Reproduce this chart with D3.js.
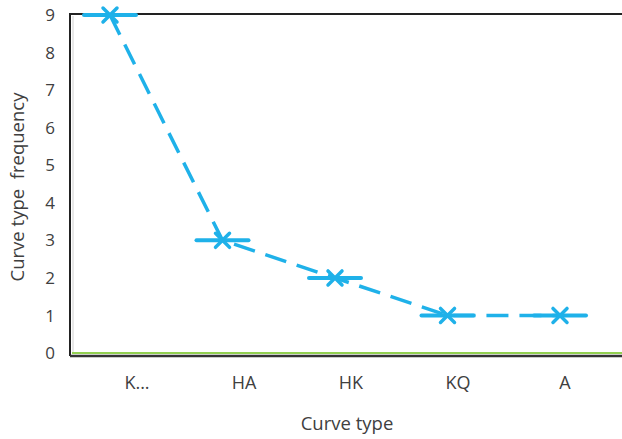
<!DOCTYPE html>
<html>
<head>
<meta charset="utf-8">
<script src="https://cdn.jsdelivr.net/npm/d3@7"></script>
<style>
  body { margin: 0; background: #fff; }
  text { font-family: "Open Sans", "Noto Sans", sans-serif; fill: #404040; }
</style>
</head>
<body>
<svg id="chart" width="622" height="439"></svg>
<script>
const categories = ["K...", "HA", "HK", "KQ", "A"];
const frequency = [9, 3, 2, 1, 1];
const yTicks = [0, 1, 2, 3, 4, 5, 6, 7, 8, 9];

const svg = d3.select("#chart");
const plotLeft = 70, plotTop = 14, plotBottom = 355, plotRight = 640;

const y = d3.scaleLinear().domain([0, 9]).range([353, 15]);
// markers and labels don't sit on exactly the same x in the original
const x = d3.scalePoint().domain(categories).range([110, 560]);
const xLabel = d3.scalePoint().domain(categories).range([137, 565]);

// frame
svg.append("line").attr("x1", plotLeft).attr("x2", plotRight).attr("y1", plotTop).attr("y2", plotTop)
  .attr("stroke", "#222").attr("stroke-width", 2);
svg.append("line").attr("x1", plotLeft).attr("x2", plotLeft).attr("y1", plotTop - 1).attr("y2", plotBottom + 1)
  .attr("stroke", "#222").attr("stroke-width", 2);
svg.append("line").attr("x1", plotLeft + 3).attr("x2", plotLeft + 3).attr("y1", plotTop + 2).attr("y2", plotBottom - 3)
  .attr("stroke", "#d0d0d0").attr("stroke-width", 1);
svg.append("line").attr("x1", plotLeft).attr("x2", plotRight).attr("y1", plotBottom + 1).attr("y2", plotBottom + 1)
  .attr("stroke", "#333").attr("stroke-width", 2.5);
svg.append("line").attr("x1", plotLeft + 2).attr("x2", plotRight).attr("y1", y(0)).attr("y2", y(0))
  .attr("stroke", "#92d050").attr("stroke-width", 2);

// y tick labels
svg.append("g").selectAll("text").data(yTicks).join("text")
  .attr("x", 50).attr("y", d => y(d)).attr("dy", "0.36em")
  .attr("text-anchor", "middle").style("font-size", "17px")
  .text(d => d);

// x tick labels
svg.append("g").selectAll("text").data(categories).join("text")
  .attr("x", d => xLabel(d)).attr("y", 389)
  .attr("text-anchor", "middle").style("font-size", "18px")
  .text(d => d);

// titles
svg.append("text").attr("x", 347).attr("y", 430).attr("text-anchor", "middle")
  .style("font-size", "18.5px").text("Curve type");
svg.append("text").attr("transform", "translate(24,187) rotate(-90)")
  .attr("text-anchor", "middle").style("font-size", "18.5px")
  .attr("xml:space", "preserve").text("Curve type  frequency");

const blue = "#1fb1e9";
const pts = categories.map((c, i) => ({ c, v: frequency[i] }));

// dashed series line
svg.append("path").datum(pts)
  .attr("fill", "none").attr("stroke", blue).attr("stroke-width", 3.5)
  .attr("stroke-dasharray", "22,11")
  .attr("d", d3.line().x(d => x(d.c)).y(d => y(d.v)));

// markers: horizontal bar plus x
const mk = svg.append("g").selectAll("g").data(pts).join("g")
  .attr("transform", d => `translate(${x(d.c)},${y(d.v)})`);
mk.append("line").attr("x1", -26).attr("x2", 26)
  .attr("stroke", blue).attr("stroke-width", 4).attr("stroke-linecap", "round");
mk.append("path").attr("d", "M-7,-7L7,7M-7,7L7,-7")
  .attr("stroke", blue).attr("stroke-width", 3.5).attr("stroke-linecap", "round");
</script>
</body>
</html>
